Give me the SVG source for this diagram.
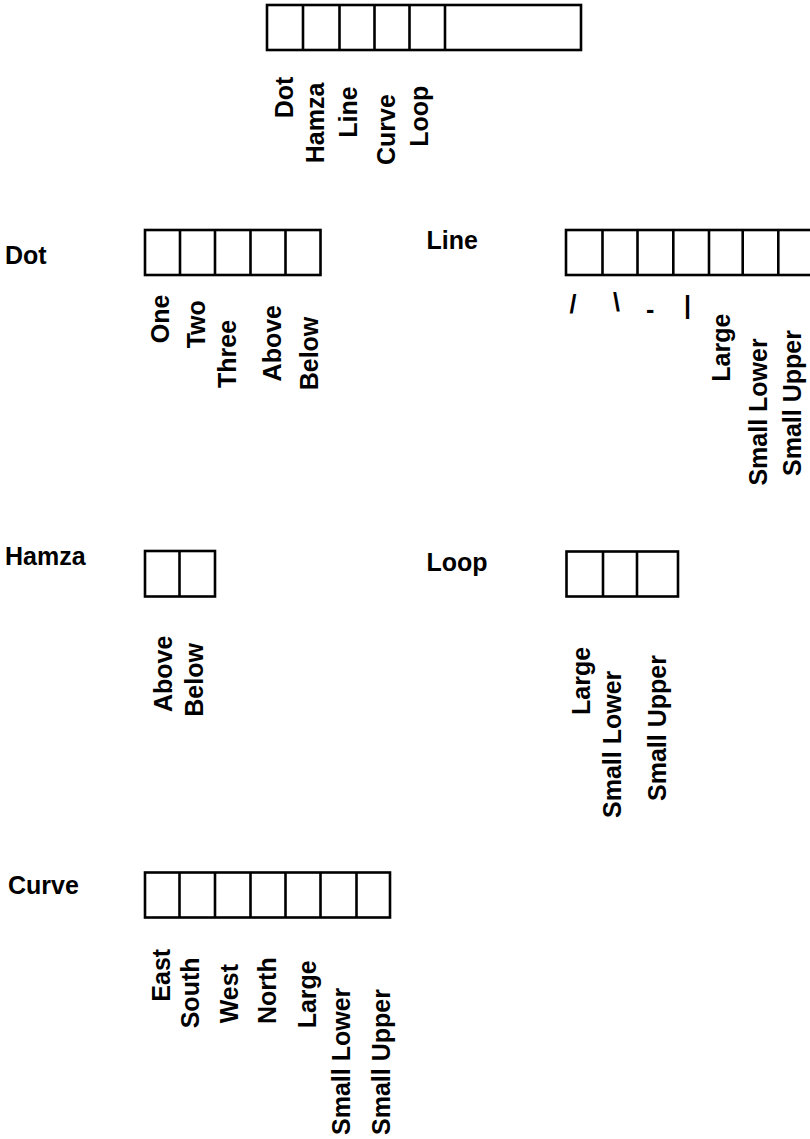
<svg xmlns="http://www.w3.org/2000/svg" width="810" height="1139" viewBox="0 0 810 1139">
<style>
text{font-family:"Liberation Sans",Arial,sans-serif;font-weight:bold;font-size:25px;fill:#000}
.box{fill:#fff;stroke:#000;stroke-width:2.6}
.div{stroke:#000;stroke-width:2.6;fill:none}
</style>
<rect width="810" height="1139" fill="#fff"/>
<g id="connectors"/>
<g id="root">
<rect class="box" x="267" y="5" width="314" height="45"/>
<path class="div" d="M303,5V50M339.5,5V50M374.5,5V50M409.5,5V50M445,5V50"/>
<text transform="translate(293,118.3) rotate(-90)">Dot</text>
<text transform="translate(324,163.3) rotate(-90)">Hamza</text>
<text transform="translate(357,137.7) rotate(-90)">Line</text>
<text transform="translate(395,165) rotate(-90)">Curve</text>
<text transform="translate(428,146.7) rotate(-90)">Loop</text>
</g>
<g id="dot">
<text x="5" y="264">Dot</text>
<rect class="box" x="145" y="230" width="175.5" height="45"/>
<path class="div" d="M180,230V275M215,230V275M250.5,230V275M285.5,230V275"/>
<text transform="translate(168.5,343.3) rotate(-90)">One</text>
<text transform="translate(204.8,348.3) rotate(-90)">Two</text>
<text transform="translate(235.5,388) rotate(-90)">Three</text>
<text transform="translate(281.3,381.4) rotate(-90)">Above</text>
<text transform="translate(318,390.3) rotate(-90)">Below</text>
</g>
<g id="line">
<text x="426.5" y="249">Line</text>
<rect class="box" x="566" y="230" width="247" height="45"/>
<path class="div" d="M602.5,230V275M637.5,230V275M673.3,230V275M709,230V275M742.7,230V275M778.3,230V275"/>
<text x="569.5" y="313">/</text>
<text x="613" y="310.5">\</text>
<text x="646" y="318">-</text>
<text x="684" y="314">|</text>
<text transform="translate(730,381.7) rotate(-90)">Large</text>
<text transform="translate(767,485.6) rotate(-90)">Small Lower</text>
<text transform="translate(801,476) rotate(-90)">Small Upper</text>
</g>
<g id="hamza">
<text x="5" y="565">Hamza</text>
<rect class="box" x="145" y="551" width="70" height="45.5"/>
<path class="div" d="M179.5,551V596.5"/>
<text transform="translate(171.5,712) rotate(-90)">Above</text>
<text transform="translate(203,716.7) rotate(-90)">Below</text>
</g>
<g id="loop">
<text x="426.5" y="571">Loop</text>
<rect class="box" x="566.5" y="551.5" width="111.5" height="45"/>
<path class="div" d="M603,551.5V596.5M637,551.5V596.5"/>
<text transform="translate(590,715) rotate(-90)">Large</text>
<text transform="translate(621,818) rotate(-90)">Small Lower</text>
<text transform="translate(666,801) rotate(-90)">Small Upper</text>
</g>
<g id="curve">
<text x="8" y="894">Curve</text>
<rect class="box" x="145" y="872.5" width="245" height="45"/>
<path class="div" d="M179.5,872.5V917.5M215,872.5V917.5M250.5,872.5V917.5M285.5,872.5V917.5M320.5,872.5V917.5M356.5,872.5V917.5"/>
<text transform="translate(170,1001.7) rotate(-90)">East</text>
<text transform="translate(199,1028.3) rotate(-90)">South</text>
<text transform="translate(238,1023.3) rotate(-90)">West</text>
<text transform="translate(276,1024) rotate(-90)">North</text>
<text transform="translate(315.5,1028.3) rotate(-90)">Large</text>
<text transform="translate(350,1135) rotate(-90)">Small Lower</text>
<text transform="translate(390,1135) rotate(-90)">Small Upper</text>
</g>
</svg>
